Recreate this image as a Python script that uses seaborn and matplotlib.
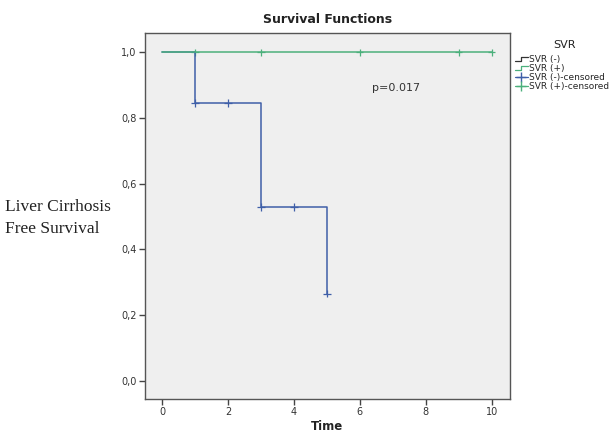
import pandas as pd
import matplotlib
matplotlib.use('Agg')
import matplotlib.pyplot as plt
import seaborn as sns
from matplotlib.lines import Line2D

# Kaplan-Meier step values
neg_time = [0, 1, 3, 5]
neg_surv = [1.0, 0.846, 0.529, 0.265]
pos_time = [0, 10]
pos_surv = [1.0, 1.0]

# censored observations
neg_cens_time = [1, 2, 3, 4, 5]
neg_cens_surv = [0.846, 0.846, 0.529, 0.529, 0.265]
pos_cens_time = [1, 3, 6, 9, 10]
pos_cens_surv = [1.0, 1.0, 1.0, 1.0, 1.0]

x_ticks = [0, 2, 4, 6, 8, 10]
y_ticks = [0.0, 0.2, 0.4, 0.6, 0.8, 1.0]
y_tick_labels = ['0,0', '0,2', '0,4', '0,6', '0,8', '1,0']

BLUE = '#3f5fa8'
GREEN = '#4cb07c'


class StepHandler:
    # legend icon drawn as a small step
    def legend_artist(self, legend, orig_handle, fontsize, handlebox):
        x0, y0 = handlebox.xdescent, handlebox.ydescent
        w, h = handlebox.width, handlebox.height
        xs = [x0, x0 + w * 0.5, x0 + w * 0.5, x0 + w]
        ys = [y0 + h * 0.15, y0 + h * 0.15, y0 + h * 0.8, y0 + h * 0.8]
        line = Line2D(xs, ys, color=orig_handle.get_color(), lw=0.9,
                      transform=handlebox.get_transform())
        handlebox.add_artist(line)
        return line


def main():
    sns.set_theme(style="white")
    plt.rcParams['font.family'] = ['DejaVu Sans']

    steps = pd.concat([
        pd.DataFrame({'Time': neg_time, 'Surv': neg_surv, 'SVR': 'SVR (-)'}),
        pd.DataFrame({'Time': pos_time, 'Surv': pos_surv, 'SVR': 'SVR (+)'}),
    ])
    cens = pd.concat([
        pd.DataFrame({'Time': neg_cens_time, 'Surv': neg_cens_surv, 'SVR': 'SVR (-)'}),
        pd.DataFrame({'Time': pos_cens_time, 'Surv': pos_cens_surv, 'SVR': 'SVR (+)'}),
    ])
    pal = {'SVR (-)': BLUE, 'SVR (+)': GREEN}

    fig = plt.figure(figsize=(6.09, 4.37), dpi=100)
    ax = fig.add_axes([0.238, 0.087, 0.599, 0.837])
    ax.set_facecolor('#efefef')

    sns.lineplot(data=steps, x='Time', y='Surv', hue='SVR', palette=pal,
                 drawstyle='steps-post', estimator=None, sort=False,
                 lw=1.1, legend=False, ax=ax)
    sns.scatterplot(data=cens, x='Time', y='Surv', hue='SVR', palette=pal,
                    marker='+', s=28, linewidth=0.9, legend=False, ax=ax)

    ax.set_xlim(-0.52, 10.55)
    ax.set_ylim(-0.055, 1.058)
    ax.set_xticks(x_ticks)
    ax.set_xticklabels([str(t) for t in x_ticks])
    ax.set_yticks(y_ticks)
    ax.set_yticklabels(y_tick_labels)
    ax.tick_params(axis='both', direction='out', length=4, width=1,
                   colors='#444444', labelsize=7, labelcolor='#333333', pad=2,
                   bottom=True, left=True)
    for s in ax.spines.values():
        s.set_color('#555555')
        s.set_linewidth(1.0)

    ax.set_xlabel('Time', fontsize=8.5, fontweight='bold', color='#222222', labelpad=2)
    ax.set_ylabel('')
    ax.set_title('Survival Functions', fontsize=9, fontweight='bold',
                 color='#222222', pad=7)

    ax.text(6.36, 0.89, 'p=0.017', fontsize=8, color='#333333', va='center')

    fig.text(0.008, 0.502, 'Liver Cirrhosis\nFree Survival', fontsize=12.5,
             family=['Liberation Serif'], color='#222222', va='center',
             linespacing=1.5)

    # legend title placed on its own, legend entries below it
    fig.text(565 / 609, 1 - 45 / 437, 'SVR', fontsize=8, color='#222222',
             ha='center', va='center')
    handles = [
        Line2D([], [], color='#333333'),
        Line2D([], [], color=GREEN),
        Line2D([], [], color=BLUE, marker='+', lw=0.9, markersize=7),
        Line2D([], [], color=GREEN, marker='+', lw=0.9, markersize=7),
    ]
    labels = ['SVR (-)', 'SVR (+)', 'SVR (-)-censored', 'SVR (+)-censored']
    fig.legend(handles, labels, loc='upper left',
               bbox_to_anchor=(515 / 609, 1 - 55 / 437), frameon=False, fontsize=6.5,
               labelspacing=0.0, handlelength=1.4,
               handletextpad=0.15, borderpad=0.0, borderaxespad=0.0,
               handler_map={handles[0]: StepHandler(), handles[1]: StepHandler()})

    fig.savefig('out.png', dpi=100)
    plt.close(fig)


if __name__ == "__main__":
    main()
